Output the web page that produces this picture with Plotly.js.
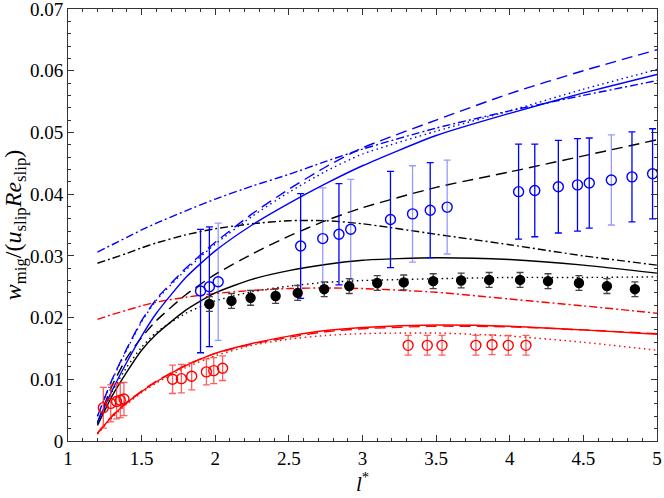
<!DOCTYPE html>
<html>
<head>
<meta charset="utf-8">
<script src="https://cdn.plot.ly/plotly-3.0.1.min.js"></script>
<style>html,body{margin:0;padding:0;background:#fff;}#chart{width:664px;height:498px;}</style>
</head>
<body>
<div id="chart"></div>
<script>
// ---- data ----
const lx = [1.2, 1.3, 1.4, 1.5, 1.6, 1.8, 2.0, 2.25, 2.5, 2.75, 3.0, 3.5, 4.0, 4.5, 5.0];

const blueSolid   = [0.0030, 0.0082, 0.0128, 0.0170, 0.0207, 0.0265, 0.0308, 0.0350, 0.0385, 0.0417, 0.0446, 0.0495, 0.0531, 0.0564, 0.0594];
const blueDashed  = [0.0040, 0.0100, 0.0150, 0.0195, 0.0230, 0.0280, 0.0322, 0.0368, 0.0408, 0.0444, 0.0475, 0.0520, 0.0563, 0.0600, 0.0634];
const blueDotted  = [0.0040, 0.0099, 0.0148, 0.0193, 0.0228, 0.0277, 0.0319, 0.0364, 0.0403, 0.0437, 0.0465, 0.0502, 0.0535, 0.0570, 0.0602];
const blueDashDot = [0.0306, 0.0318, 0.0330, 0.0342, 0.0353, 0.0373, 0.0392, 0.0413, 0.0432, 0.0453, 0.0473, 0.0507, 0.0535, 0.0560, 0.0584];

const blackSolid   = [0.0025, 0.0073, 0.0112, 0.0147, 0.0173, 0.0212, 0.0240, 0.0262, 0.0276, 0.0286, 0.0293, 0.0297, 0.0294, 0.0285, 0.0272];
const blackDashed  = [0.0030, 0.0090, 0.0135, 0.0168, 0.0195, 0.0237, 0.0270, 0.0303, 0.0332, 0.0357, 0.0378, 0.0411, 0.0436, 0.0462, 0.0488];
const blackDotted  = [0.0028, 0.0080, 0.0120, 0.0152, 0.0176, 0.0207, 0.0227, 0.0242, 0.0251, 0.0257, 0.0260, 0.0263, 0.0265, 0.0265, 0.0266];
const blackDashDot = [0.0288, 0.0296, 0.0304, 0.0313, 0.0321, 0.0334, 0.0344, 0.0352, 0.0357, 0.0357, 0.0352, 0.0335, 0.0318, 0.0300, 0.0285];

const redSolid   = [0.0012, 0.0040, 0.0062, 0.0080, 0.0096, 0.0122, 0.0142, 0.0158, 0.0170, 0.0179, 0.0184, 0.0188, 0.0186, 0.0180, 0.0173];
const redDashed  = [0.0013, 0.0041, 0.0063, 0.0081, 0.0097, 0.0123, 0.0142, 0.0157, 0.0168, 0.0177, 0.0182, 0.0186, 0.0185, 0.0180, 0.0174];
const redDotted  = [0.0011, 0.0038, 0.0060, 0.0078, 0.0094, 0.0119, 0.0138, 0.0155, 0.0165, 0.0171, 0.0174, 0.0175, 0.0170, 0.0160, 0.0147];
const redDashDot = [0.0197, 0.0205, 0.0212, 0.0219, 0.0225, 0.0233, 0.0239, 0.0244, 0.0247, 0.0248, 0.0247, 0.0241, 0.0230, 0.0219, 0.0207];

// blue open circles (dark bars / light bars)
const blueX   = [1.90, 1.96, 2.58, 2.84, 3.19, 3.46, 4.06, 4.17, 4.33, 4.46, 4.54, 4.83, 4.97];
const blueY   = [0.0243, 0.0250, 0.0316, 0.0335, 0.0359, 0.0374, 0.0404, 0.0406, 0.0412, 0.0415, 0.0418, 0.0428, 0.0433];
const blueErr = [0.0100, 0.0097, 0.0085, 0.0082, 0.0078, 0.0077, 0.0077, 0.0075, 0.0075, 0.0075, 0.0073, 0.0073, 0.0073];
const blueLX   = [2.02, 2.73, 2.92, 3.34, 3.575, 4.69];
const blueLY   = [0.0258, 0.0328, 0.0343, 0.0368, 0.0379, 0.0423];
const blueLErr = [0.0095, 0.0082, 0.0081, 0.0078, 0.0076, 0.0073];

// black filled circles
const blackX   = [1.96, 2.11, 2.24, 2.41, 2.56, 2.74, 2.91, 3.10, 3.28, 3.48, 3.67, 3.86, 4.07, 4.26, 4.47, 4.66, 4.85];
const blackY   = [0.0222, 0.0227, 0.0232, 0.0235, 0.0240, 0.0246, 0.0251, 0.0256, 0.0257, 0.0259, 0.0260, 0.0261, 0.0261, 0.0259, 0.0256, 0.0251, 0.0246];
const blackErr = [0.0012, 0.0012, 0.0012, 0.0012, 0.0012, 0.0012, 0.0012, 0.0012, 0.0012, 0.0012, 0.0012, 0.0012, 0.0012, 0.0012, 0.0012, 0.0012, 0.0012];

// red open circles
const redX   = [1.24, 1.29, 1.33, 1.355, 1.38, 1.71, 1.77, 1.84, 1.94, 1.99, 2.05, 3.31, 3.44, 3.54, 3.77, 3.88, 3.99, 4.11];
const redY   = [0.0054, 0.0061, 0.0064, 0.0066, 0.0068, 0.0100, 0.0101, 0.0105, 0.0112, 0.0114, 0.0118, 0.0155, 0.0155, 0.0155, 0.0155, 0.0156, 0.0155, 0.0155];
const redErr = [0.0033, 0.0030, 0.0028, 0.0028, 0.0027, 0.0023, 0.0023, 0.0022, 0.0021, 0.0021, 0.0020, 0.0016, 0.0016, 0.0016, 0.0016, 0.0016, 0.0016, 0.0016];

const xTicks = [1, 1.5, 2, 2.5, 3, 3.5, 4, 4.5, 5];
const xTickText = ['1', '1.5', '2', '2.5', '3', '3.5', '4', '4.5', '5'];
const yTicks = [0, 0.01, 0.02, 0.03, 0.04, 0.05, 0.06, 0.07];
const yTickText = ['0', '0.01', '0.02', '0.03', '0.04', '0.05', '0.06', '0.07'];

// ---- build ----
const BLUE = '#0000ff', RED = '#ff0000', BLACK = '#000000';
const DASH = '11px,6px', DOT = '1.5px,3.5px', DASHDOT = '8px,3px,2px,3px';
function line(y, color, dash) {
  return {x: lx, y: y, mode: 'lines', type: 'scatter', hoverinfo: 'skip',
    line: {color: color, width: 1.4, dash: dash, shape: 'spline', smoothing: 0.6}};
}
function pts(x, y, e, color, barColor, filled, size) {
  return {x: x, y: y, mode: 'markers', type: 'scatter',
    marker: {symbol: filled ? 'circle' : 'circle-open', size: size, color: color, line: {color: color, width: 1.4}},
    error_y: {type: 'data', array: e, visible: true, color: barColor, thickness: 1.3, width: 3.5}};
}
const data = [
  line(redSolid, RED, 'solid'), line(redDashed, RED, DASH), line(redDotted, RED, DOT), line(redDashDot, RED, DASHDOT),
  line(blackSolid, BLACK, 'solid'), line(blackDashed, BLACK, DASH), line(blackDotted, BLACK, DOT), line(blackDashDot, BLACK, DASHDOT),
  line(blueSolid, BLUE, 'solid'), line(blueDashed, BLUE, DASH), line(blueDotted, BLUE, DOT), line(blueDashDot, BLUE, DASHDOT),
  pts(blueX, blueY, blueErr, BLUE, BLUE, false, 10),
  pts(blueLX, blueLY, blueLErr, BLUE, 'rgba(70,70,255,0.55)', false, 10),
  pts(blackX, blackY, blackErr, BLACK, '#444444', true, 9),
  pts(redX, redY, redErr, RED, 'rgba(255,40,40,0.75)', false, 10)
];

const FAM = '"Liberation Serif", "Times New Roman", "DejaVu Serif", serif';
const tickFont = {family: FAM, size: 19, color: '#000'};
const layout = {
  width: 664, height: 498,
  margin: {l: 68, r: 7, t: 9, b: 57},
  paper_bgcolor: '#fff', plot_bgcolor: '#fff',
  font: {family: FAM, color: '#000'},
  showlegend: false,
  xaxis: {
    range: [1, 5.000001], tickvals: xTicks, ticktext: xTickText,
    ticks: 'inside', ticklen: 6, tickwidth: 1, tickcolor: '#333',
    minor: {dtick: 0.1, ticks: 'inside', ticklen: 3, tickcolor: '#333', showgrid: false},
    showline: true, linecolor: '#333', linewidth: 1, mirror: 'ticks',
    showgrid: false, zeroline: false, tickfont: tickFont, ticklabeloverflow: 'allow',
    title: {text: '<i>l</i><sup>*</sup>', font: {family: FAM, size: 21, color: '#000'}, standoff: 8}
  },
  yaxis: {
    range: [0, 0.0700001], tickvals: yTicks, ticktext: yTickText,
    ticks: 'inside', ticklen: 6, tickwidth: 1, tickcolor: '#333',
    minor: {dtick: 0.002, ticks: 'inside', ticklen: 3, tickcolor: '#333', showgrid: false},
    showline: true, linecolor: '#333', linewidth: 1, mirror: 'ticks',
    showgrid: false, zeroline: false, tickfont: tickFont, ticklabeloverflow: 'allow',
    title: {text: '<i>w</i><sub>mig</sub>/(<i>u</i><sub>slip</sub><i>Re</i><sub>slip</sub>)', font: {family: FAM, size: 24, color: '#000'}, standoff: 4}
  }
};
Plotly.newPlot('chart', data, layout, {staticPlot: true, displayModeBar: false});
</script>
</body>
</html>
